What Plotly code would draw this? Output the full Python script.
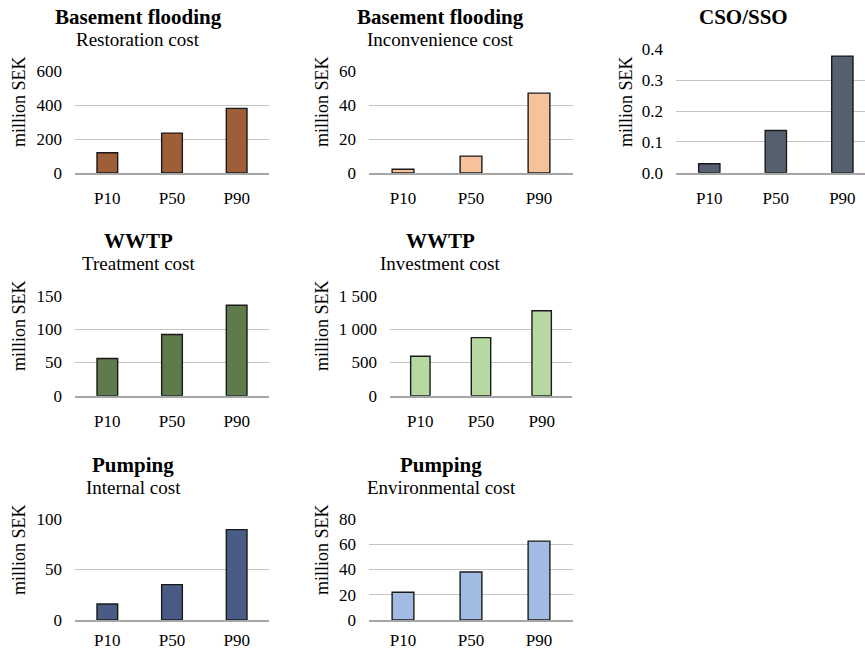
import plotly.graph_objects as go

W, H = 865, 650

categories = ["P10", "P50", "P90"]
restoration = [120, 236, 382]
inconvenience = [2.2, 10, 47.2]
cso_sso = [0.029, 0.137, 0.378]
treatment = [56, 92, 136]
investment = [593, 873, 1279]
internal = [15.8, 35, 89.5]
environmental = [22, 38, 62.5]

titles = ["Basement flooding", "Basement flooding", "CSO/SSO", "WWTP", "WWTP", "Pumping", "Pumping"]
subtitles = ["Restoration cost", "Inconvenience cost", "", "Treatment cost", "Investment cost",
             "Internal cost", "Environmental cost"]
y_label = "million SEK"

series = [restoration, inconvenience, cso_sso, treatment, investment, internal, environmental]
colors = ["#9E5E37", "#F5C29C", "#566170", "#5F7A4B", "#B7D8A0", "#485C85", "#A2BBE3"]

# panel geometry in pixels: x0, x1, ytop, ybottom
panels = [
    (75, 269, 71.5, 173),
    (369, 573, 71.5, 173),
    (676, 865, 49.3, 172.7),
    (75, 269, 296, 395.7),
    (390, 572, 296, 395.7),
    (75, 269, 519, 620),
    (369, 573, 519, 620),
]
yranges = [(0, 600, 200), (0, 60, 20), (0, 0.4, 0.1), (0, 150, 50), (0, 1500, 500), (0, 100, 50), (0, 80, 20)]
yformats = ["d", "d", ".1f", "d", ",d", "d", "d"]
xranges = [None, None, [-0.5, 2.34], None, None, None, None]
xstandoff = [9, 9, 9, 9, 9, 4, 4]
title_pos = [(138, 17, 39), (440, 17, 39), (743, 17, None), (138, 241, 263), (440, 241, 263),
             (133, 465, 487), (441, 465, 487)]
ylab_pos = [(19, 102), (322, 102), (626, 102), (19, 326), (322, 326), (19, 550), (322, 550)]

FONT = "Liberation Serif"

fig = go.Figure()
annotations = []
for i, (vals, col) in enumerate(zip(series, colors)):
    n = "" if i == 0 else str(i + 1)
    fig.add_trace(go.Bar(
        x=categories, y=vals, width=0.32,
        marker=dict(color=col, line=dict(color="#1a1a1a", width=1.4)),
        xaxis="x" + n, yaxis="y" + n, showlegend=False, hoverinfo="x+y",
    ))
    x0, x1, yt, yb = panels[i]
    lo, hi, dt = yranges[i]
    xa = dict(
        domain=[x0 / W, x1 / W], anchor="y" + n, type="category", automargin=False,
        showgrid=False, showline=True, linecolor="#A6A6A6", linewidth=1.5,
        ticks="", tickfont=dict(family=FONT, size=17, color="#000"),
        ticklabelstandoff=xstandoff[i], fixedrange=True,
    )
    if xranges[i] is not None:
        xa["range"] = xranges[i]
    ya = dict(
        domain=[1 - yb / H, 1 - yt / H], anchor="x" + n, automargin=False,
        range=[lo, hi], dtick=dt, tick0=0, tickformat=yformats[i],
        showgrid=True, gridcolor="#C4C4C4", gridwidth=1, zeroline=False,
        showline=False, ticks="", tickfont=dict(family=FONT, size=17, color="#000"),
        ticklabelstandoff=12, fixedrange=True,
    )
    fig.update_layout(**{"xaxis" + n: xa, "yaxis" + n: ya})

    tx, ty1, ty2 = title_pos[i]
    annotations.append(dict(x=tx / W, y=1 - ty1 / H, xref="paper", yref="paper",
                            text="<b>" + titles[i] + "</b>", showarrow=False,
                            xanchor="center", yanchor="middle",
                            font=dict(family=FONT, size=21, color="#000")))
    if subtitles[i]:
        annotations.append(dict(x=tx / W, y=1 - ty2 / H, xref="paper", yref="paper",
                                text=subtitles[i], showarrow=False,
                                xanchor="center", yanchor="middle",
                                font=dict(family=FONT, size=19, color="#000")))
    lx, ly = ylab_pos[i]
    annotations.append(dict(x=lx / W, y=1 - ly / H, xref="paper", yref="paper",
                            text=y_label, showarrow=False, textangle=-90,
                            xanchor="center", yanchor="middle",
                            font=dict(family=FONT, size=18, color="#000")))

fig.update_layout(
    width=W, height=H, margin=dict(l=0, r=0, t=0, b=0, autoexpand=False),
    paper_bgcolor="white", plot_bgcolor="white",
    separators=". ", annotations=annotations, showlegend=False,
)

fig.write_html("out.html")
